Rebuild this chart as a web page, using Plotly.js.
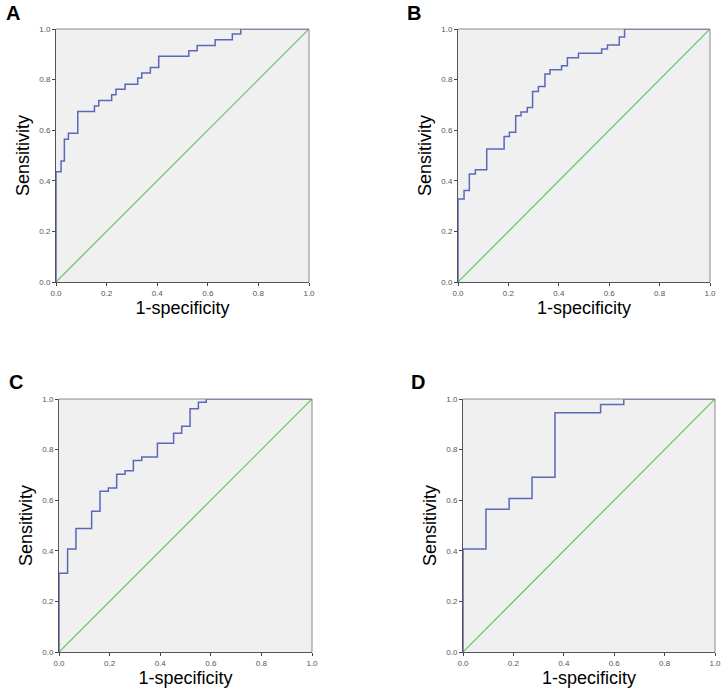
<!DOCTYPE html>
<html>
<head>
<meta charset="utf-8">
<script src="https://cdn.plot.ly/plotly-3.0.1.min.js"></script>
<style>html,body{margin:0;padding:0;background:#fff;}#chart{width:723px;height:697px;}</style>
</head>
<body>
<div id="chart"></div>
<script>
// ROC step corners (1-specificity, sensitivity)
const fprA = [0, 0, 0.020, 0.033, 0.049, 0.086, 0.152, 0.169, 0.220, 0.237, 0.273, 0.323, 0.339, 0.373, 0.406, 0.525, 0.558, 0.629, 0.697, 0.730, 1.0];
const tprA = [0, 0.436, 0.478, 0.564, 0.588, 0.674, 0.696, 0.717, 0.740, 0.762, 0.782, 0.806, 0.826, 0.848, 0.892, 0.914, 0.935, 0.958, 0.980, 1.0, 1.0];

const fprB = [0, 0, 0.024, 0.045, 0.069, 0.114, 0.183, 0.204, 0.229, 0.250, 0.275, 0.296, 0.319, 0.345, 0.365, 0.411, 0.434, 0.478, 0.570, 0.593, 0.640, 0.661, 1.0];
const tprB = [0, 0.328, 0.362, 0.427, 0.444, 0.526, 0.575, 0.592, 0.657, 0.672, 0.690, 0.753, 0.773, 0.822, 0.839, 0.855, 0.886, 0.904, 0.921, 0.937, 0.968, 1.0, 1.0];

const fprC = [0, 0, 0.034, 0.067, 0.129, 0.162, 0.195, 0.228, 0.261, 0.294, 0.327, 0.389, 0.453, 0.485, 0.518, 0.551, 0.582, 1.0];
const tprC = [0, 0.311, 0.407, 0.488, 0.556, 0.635, 0.648, 0.703, 0.716, 0.757, 0.771, 0.825, 0.865, 0.892, 0.961, 0.987, 1.0, 1.0];

const fprD = [0, 0, 0.091, 0.183, 0.274, 0.365, 0.546, 0.638, 1.0];
const tprD = [0, 0.407, 0.564, 0.607, 0.691, 0.946, 0.978, 1.0, 1.0];

const refLine = [0, 1];
const tickVals = [0, 0.2, 0.4, 0.6, 0.8, 1.0];
const tickText = ["0.0", "0.2", "0.4", "0.6", "0.8", "1.0"];
const panelLabels = ["A", "B", "C", "D"];
const xTitle = "1-specificity";
const yTitle = "Sensitivity";

const curves = [[fprA, tprA], [fprB, tprB], [fprC, tprC], [fprD, tprD]];
const blue = "#5a68bb";
const green = "#62c462";

const data = [];
curves.forEach((c, i) => {
  const xa = i === 0 ? "x" : "x" + (i + 1);
  const ya = i === 0 ? "y" : "y" + (i + 1);
  data.push({x: refLine, y: refLine, xaxis: xa, yaxis: ya, mode: "lines",
    line: {color: green, width: 1.2}, hoverinfo: "skip", showlegend: false, cliponaxis: false});
  data.push({x: c[0], y: c[1], xaxis: xa, yaxis: ya, mode: "lines",
    line: {color: blue, width: 1.5, shape: "hv"}, showlegend: false, cliponaxis: false});
});

const W = 723, H = 697;
const boxes = [
  {x0: 56, x1: 309, y0: 29, y1: 282},
  {x0: 458, x1: 710, y0: 29, y1: 282},
  {x0: 59, x1: 312, y0: 399, y1: 652},
  {x0: 463, x1: 715, y0: 399, y1: 652}
];
const letterPos = [[4, 13], [405, 13], [7, 382], [409, 382]];

const layout = {
  width: W, height: H,
  margin: {l: 0, r: 0, t: 0, b: 0},
  paper_bgcolor: "#ffffff",
  plot_bgcolor: "#f0f0f0",
  font: {family: "Liberation Sans, Arial, sans-serif", color: "#000"},
  showlegend: false,
  annotations: [],
  shapes: []
};

boxes.forEach((b, i) => {
  const sx = i === 0 ? "xaxis" : "xaxis" + (i + 1);
  const sy = i === 0 ? "yaxis" : "yaxis" + (i + 1);
  const xa = i === 0 ? "x" : "x" + (i + 1);
  const ya = i === 0 ? "y" : "y" + (i + 1);
  layout[sx] = {
    domain: [b.x0 / W, b.x1 / W], anchor: ya, range: [0, 1],
    tickvals: tickVals, ticktext: tickText, ticks: "outside", ticklen: 3, tickcolor: "#444",
    tickfont: {size: 8, color: "#555"}, showgrid: false, zeroline: false,
    showline: true, linecolor: "#555", linewidth: 1, mirror: false, fixedrange: true,
    title: {text: xTitle, font: {size: 18, color: "#000"}, standoff: 3}
  };
  layout[sy] = {
    domain: [1 - b.y1 / H, 1 - b.y0 / H], anchor: xa, range: [0, 1],
    tickvals: tickVals, ticktext: tickText, ticks: "outside", ticklen: 3, tickcolor: "#444",
    tickfont: {size: 8, color: "#555"}, showgrid: false, zeroline: false,
    showline: true, linecolor: "#555", linewidth: 1, mirror: false, fixedrange: true,
    title: {text: yTitle, font: {size: 18, color: "#000"}, standoff: 4}
  };
  // lighter top/right frame
  layout.shapes.push({type: "line", xref: "paper", yref: "paper",
    x0: b.x0 / W, x1: b.x1 / W, y0: 1 - b.y0 / H, y1: 1 - b.y0 / H, line: {color: "#8a8a8a", width: 1}});
  layout.shapes.push({type: "line", xref: "paper", yref: "paper",
    x0: b.x1 / W, x1: b.x1 / W, y0: 1 - b.y0 / H, y1: 1 - b.y1 / H, line: {color: "#8a8a8a", width: 1}});
  layout.annotations.push({text: "<b>" + panelLabels[i] + "</b>", xref: "paper", yref: "paper",
    x: letterPos[i][0] / W, y: 1 - letterPos[i][1] / H, xanchor: "left", yanchor: "middle",
    showarrow: false, font: {size: 20, color: "#000"}});
});

Plotly.newPlot("chart", data, layout, {displayModeBar: false, staticPlot: true});
</script>
</body>
</html>
